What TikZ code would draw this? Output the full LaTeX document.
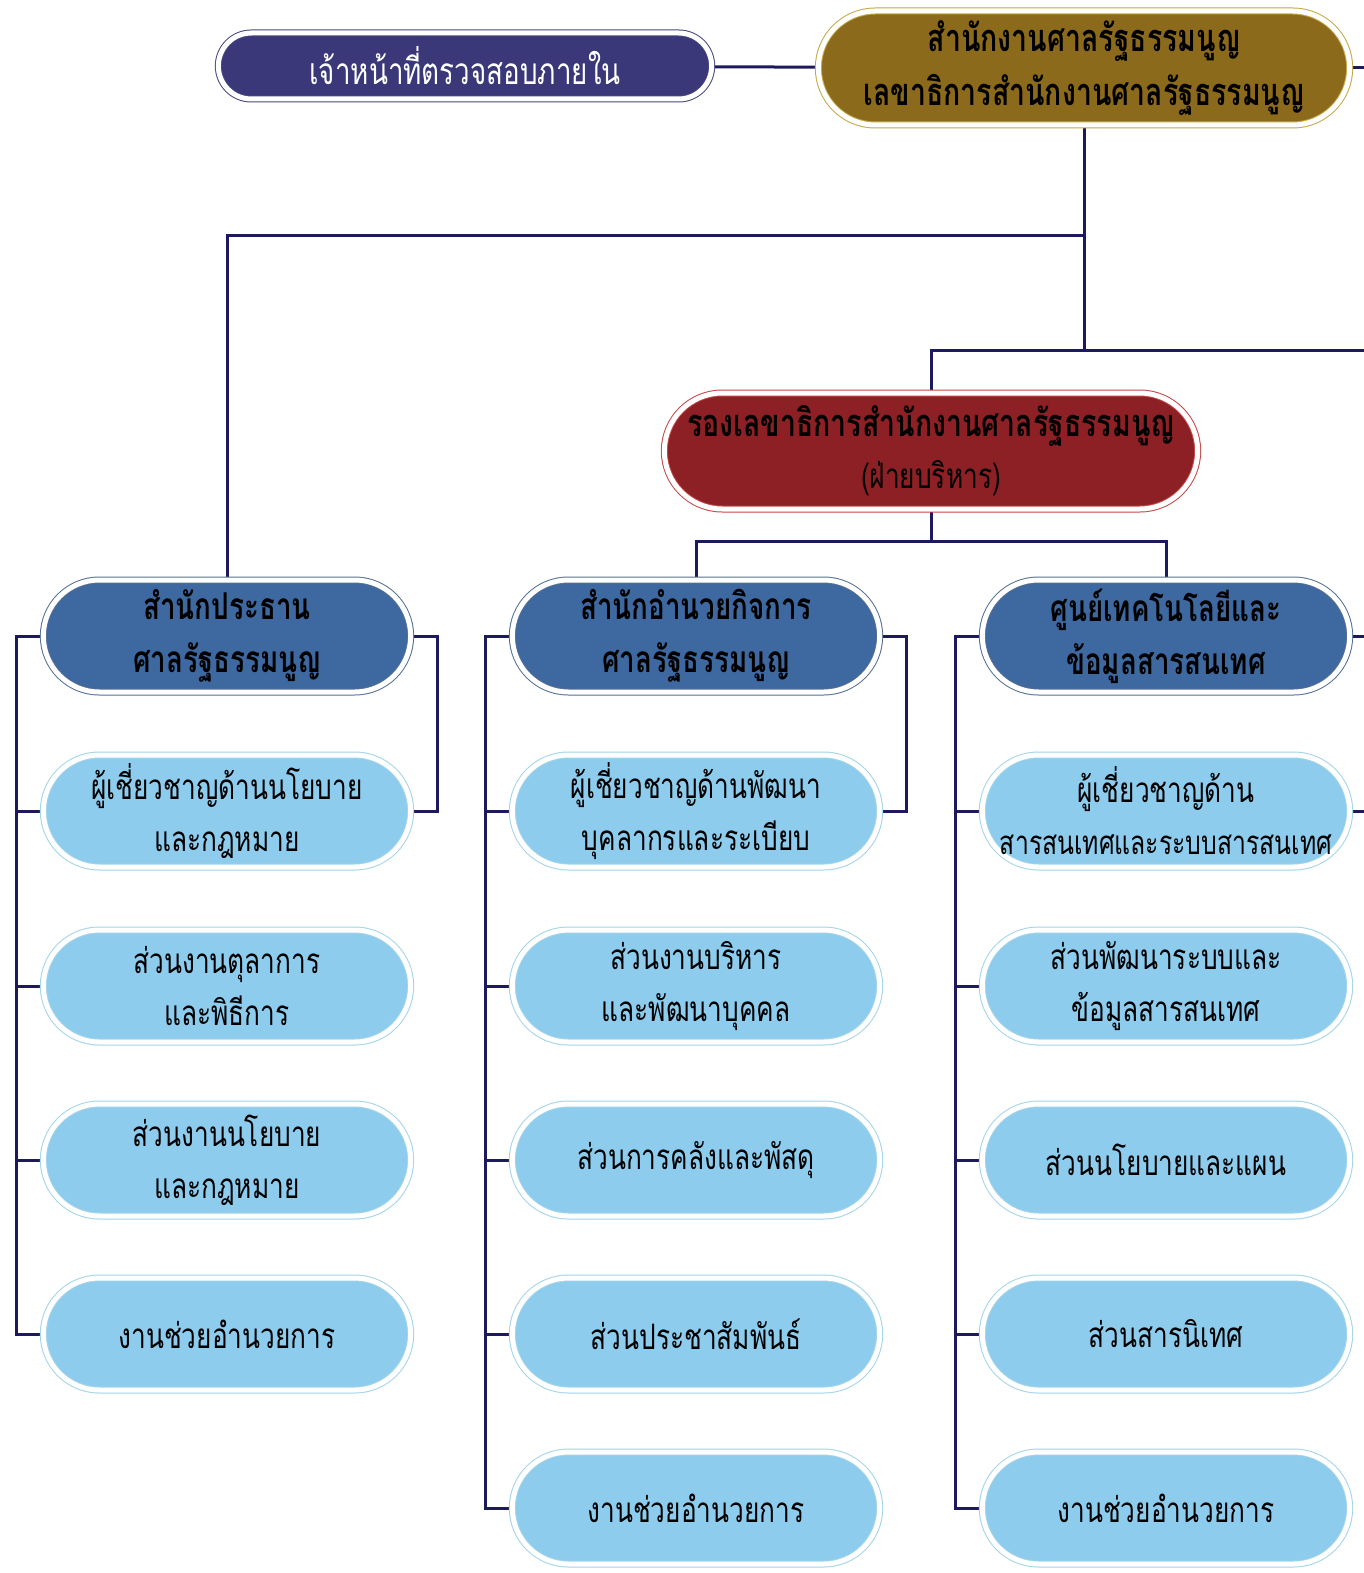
\documentclass[tikz,border=0pt]{standalone}
\usepackage{fontspec}
\newfontfamily\thaifont[Script=Thai,FakeStretch=0.75]{Loma}
\usetikzlibrary{shapes.misc,positioning,backgrounds}
\definecolor{linkcol}{RGB}{28,26,92}
\definecolor{auditfill}{RGB}{58,56,120}
\definecolor{auditline}{RGB}{70,70,130}
\definecolor{topfill}{RGB}{139,106,28}
\definecolor{topline}{RGB}{196,168,70}
\definecolor{deputyfill}{RGB}{140,32,36}
\definecolor{deputyline}{RGB}{196,70,70}
\definecolor{headfill}{RGB}{62,104,160}
\definecolor{headline}{RGB}{84,110,150}
\definecolor{unitfill}{RGB}{142,204,238}
\definecolor{unitline}{RGB}{160,212,232}

\begin{document}
\begin{tikzpicture}[x=1pt, y=-1pt, font=\thaifont\fontsize{35}{52}\selectfont,
    box/.style={rounded rectangle, draw=#1, double=white, double distance=5pt, line width=1pt, align=center, minimum width=374pt, minimum height=112pt},
    unit/.style={box=unitline, fill=unitfill},
    head/.style={box=headline, fill=headfill, font=\thaifont\bfseries\fontsize{37}{53}\selectfont},
    link/.style={draw=linkcol, line width=3pt}]
    \useasboundingbox (0,0) rectangle (1364,1573);

    \node[box=auditline, fill=auditfill, text=white, minimum width=500pt, minimum height=66pt, font=\thaifont\fontsize{37}{52}\selectfont] (audit) at (465,66) {เจ้าหน้าที่ตรวจสอบภายใน};
    \node[box=topline, fill=topfill, minimum width=538pt, minimum height=114pt, font=\thaifont\bfseries\fontsize{38}{54}\selectfont] (top) at (1084,68) {สำนักงานศาลรัฐธรรมนูญ\\เลขาธิการสำนักงานศาลรัฐธรรมนูญ};
    \node[box=deputyline, fill=deputyfill, minimum width=540pt, minimum height=116pt] (deputy) at (931,451) {{\bfseries\fontsize{38}{52}\selectfont รองเลขาธิการสำนักงานศาลรัฐธรรมนูญ}\\(ฝ่ายบริหาร)};

    \node[head] (L0) at (227,636) {สำนักประธาน\\ศาลรัฐธรรมนูญ};
    \node[unit] (L1) at (227,811) {ผู้เชี่ยวชาญด้านนโยบาย\\และกฎหมาย};
    \node[unit] (L2) at (227,986) {ส่วนงานตุลาการ\\และพิธีการ};
    \node[unit] (L3) at (227,1160) {ส่วนงานนโยบาย\\และกฎหมาย};
    \node[unit] (L4) at (227,1334) {งานช่วยอำนวยการ};

    \node[head] (M0) at (696,636) {สำนักอำนวยกิจการ\\ศาลรัฐธรรมนูญ};
    \node[unit] (M1) at (696,811) {ผู้เชี่ยวชาญด้านพัฒนา\\บุคลากรและระเบียบ};
    \node[unit] (M2) at (696,986) {ส่วนงานบริหาร\\และพัฒนาบุคคล};
    \node[unit] (M3) at (696,1160) {ส่วนการคลังและพัสดุ};
    \node[unit] (M4) at (696,1334) {ส่วนประชาสัมพันธ์};
    \node[unit] (M5) at (696,1508) {งานช่วยอำนวยการ};

    \node[head] (R0) at (1166,636) {ศูนย์เทคโนโลยีและ\\ข้อมูลสารสนเทศ};
    \node[unit] (R1) at (1166,811) {ผู้เชี่ยวชาญด้าน\\\makebox[280pt][c]{\fontsize{33}{52}\selectfont สารสนเทศและระบบสารสนเทศ}};
    \node[unit] (R2) at (1166,986) {ส่วนพัฒนาระบบและ\\ข้อมูลสารสนเทศ};
    \node[unit] (R3) at (1166,1160) {ส่วนนโยบายและแผน};
    \node[unit] (R4) at (1166,1334) {ส่วนสารนิเทศ};
    \node[unit] (R5) at (1166,1508) {งานช่วยอำนวยการ};

    \coordinate (j1) at (1084,235);
    \coordinate (j2) at (1084,350);
    \coordinate (edgeA) at (1380,350);

    \begin{scope}[on background layer]
    \draw[link] (audit) -- (top);
    \draw[link] (top.east) -- ++(20,0);
    \draw[link] (top.south) -- (j2);
    \draw[link] (j1) -| (L0.north);
    \draw[link] (edgeA) -| (deputy.north);
    \draw[link] (deputy.south) -- ++(0,32) -| (M0.north);
    \draw[link] (deputy.south) ++(0,32) -| (R0.north);

    \draw[link] (L0.west) -- ++(-26,0) |- (L4.west);
    \draw[link] (M0.west) -- ++(-26,0) |- (M5.west);
    \draw[link] (R0.west) -- ++(-26,0) |- (R5.west);
    \foreach \n in {L1,L2,L3,M1,M2,M3,M4,R1,R2,R3,R4}
        \draw[link] (\n.west) -- ++(-26,0);
    \draw[link] (L0.east) -- ++(26,0) |- (L1.east);
    \draw[link] (M0.east) -- ++(26,0) |- (M1.east);
    \draw[link] (R0.east) -- ++(20,0);
    \draw[link] (R1.east) -- ++(20,0);
    \end{scope}
\end{tikzpicture}
\end{document}
